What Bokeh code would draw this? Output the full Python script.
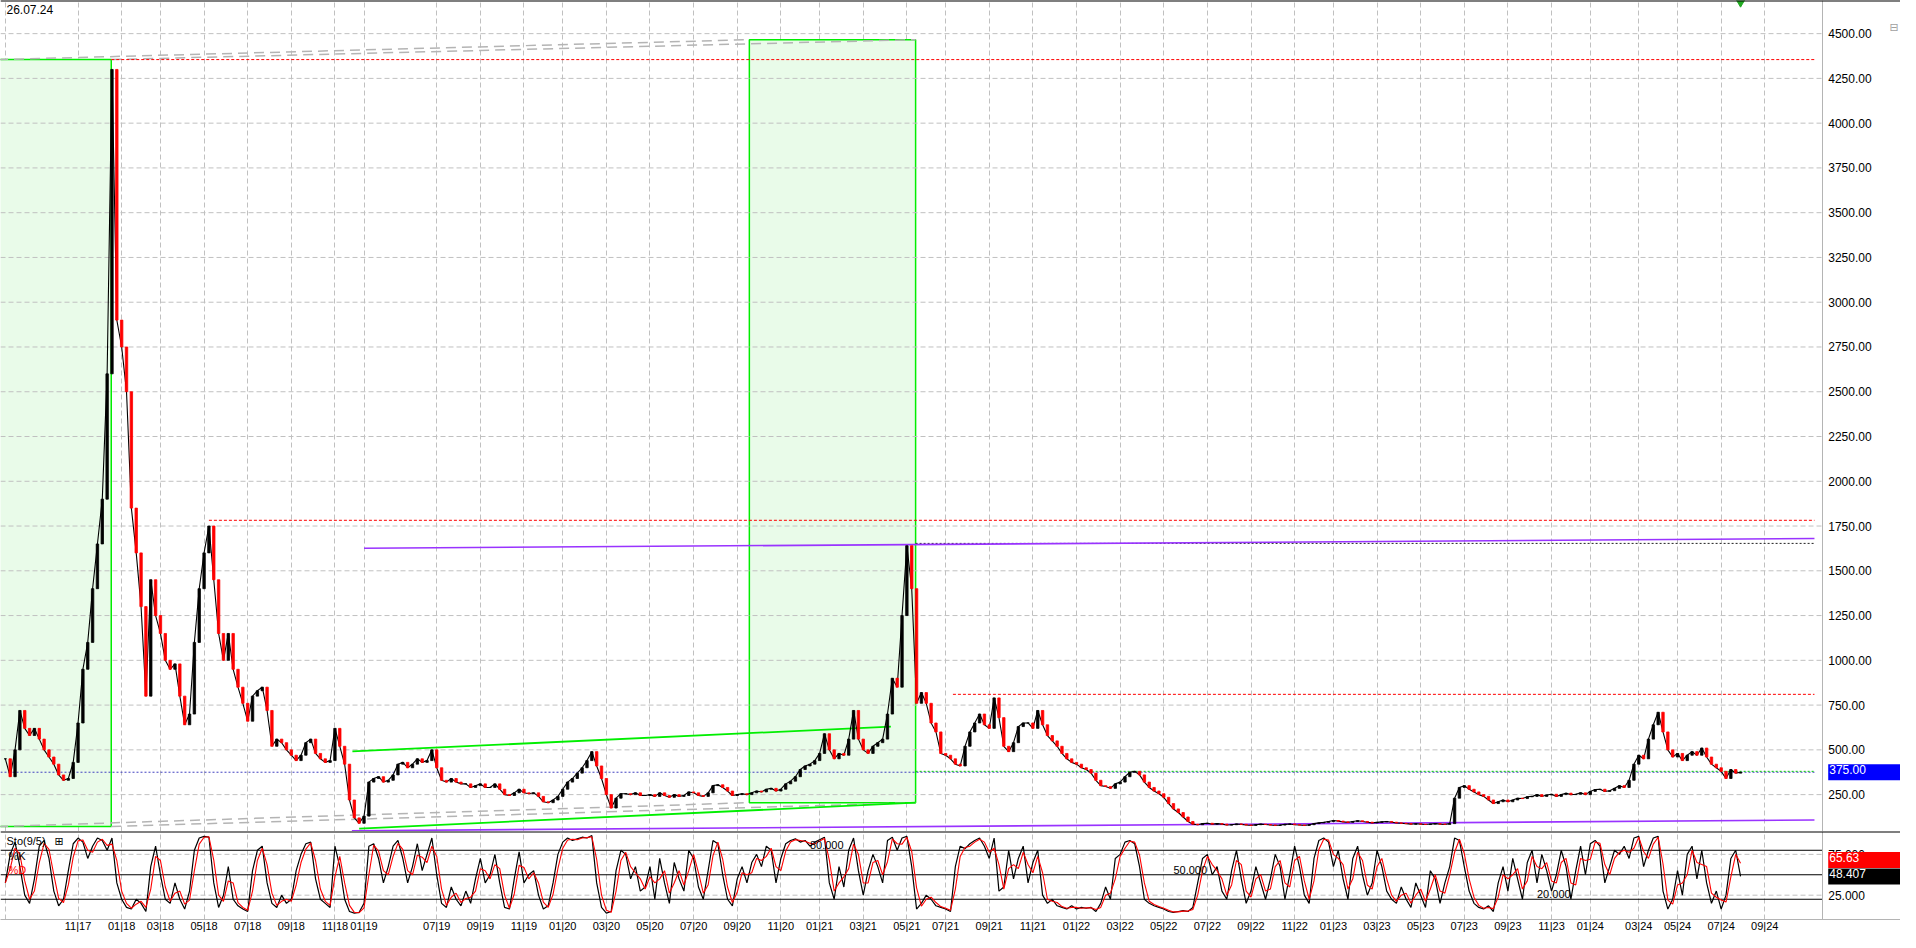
import pandas as pd
from bokeh.plotting import figure
from bokeh.layouts import column
from bokeh.models import (FixedTicker, CustomJSTickFormatter, NumeralTickFormatter,
                          Span, Label, Range1d, ColumnDataSource)
from bokeh.embed import file_html
from bokeh.resources import INLINE

# ---------------- data (bar index = sample number) ----------------
closes = [
    450, 350, 500, 720, 620, 580, 620, 560, 500, 460,
    420, 360, 330, 340, 430, 650, 950, 1100, 1400, 1650,
    1900, 2600, 4300, 2900, 2750, 2500, 1850, 1600, 1300, 800,
    1450, 1250, 1150, 1000, 950, 980, 800, 640, 700, 1100,
    1400, 1600, 1750, 1450, 1150, 1000, 1150, 950, 850, 760,
    660, 800, 830, 850, 720, 520, 560, 540, 500, 470,
    440, 470, 540, 560, 480, 450, 430, 440, 620, 520,
    420, 220, 120, 90, 130, 320, 340, 350, 320, 330,
    360, 420, 430, 400, 420, 450, 430, 440, 500, 400,
    330, 320, 340, 320, 310, 310, 290, 300, 310, 290,
    290, 310, 280, 250, 245, 260, 280, 260, 255, 260,
    240, 210, 205, 220, 240, 280, 320, 340, 370, 400,
    440, 490, 410, 340, 250, 175, 230, 255, 255, 250,
    260, 245, 245, 250, 240, 260, 245, 235, 250, 240,
    245, 265, 260, 245, 240, 260, 300, 305, 290, 270,
    245, 250, 255, 250, 260, 270, 265, 280, 285, 270,
    280, 310, 325, 350, 390, 410, 420, 440, 480, 590,
    500, 450, 480, 470, 560, 720, 560, 500, 480, 520,
    540, 560, 700, 900, 850, 1250, 1640, 1400, 760, 820,
    760, 650, 600, 480, 470, 450, 420, 410, 520, 600,
    650, 700, 640, 620, 790, 680, 520, 490, 540, 630,
    650, 650, 620, 720, 640, 580, 550, 520, 480, 450,
    430, 420, 400, 390, 370, 330, 300, 295, 285, 310,
    320, 350, 375, 380, 360, 320, 290, 270, 255, 235,
    200, 170, 150, 125, 100, 85, 82, 88, 90, 85,
    88, 85, 80, 82, 86, 84, 80, 78, 82, 85,
    83, 80, 78, 80, 84, 86, 82, 80, 78, 82,
    88, 92, 95, 100, 105, 102, 98, 95, 100, 104,
    100, 96, 92, 95, 98, 100, 96, 92, 90, 88,
    85, 87, 85, 83, 86, 88, 85, 84, 88, 230,
    290, 300, 280, 265, 250, 240, 220, 200, 210, 220,
    210, 220, 230, 228, 238, 240, 250, 240, 248, 252,
    240, 250, 258, 250, 252, 260, 250, 268, 278, 280,
    268, 272, 285, 300, 290, 330, 420, 470, 450, 560,
    640, 710, 600, 500, 460, 480, 440, 470, 490, 470,
    510, 460, 420, 400, 380, 340, 390, 370, 375,
]

stoch_k = [
    40, 75, 90, 60, 25, 15, 45, 85, 92, 70, 30, 12, 20, 55, 88, 95, 90, 70, 85, 95,
    92, 80, 95, 40, 20, 10, 8, 20, 15, 5, 60, 85, 50, 20, 15, 40, 20, 8, 30, 80,
    95, 97, 96, 40, 10, 25, 60, 20, 12, 8, 5, 55, 80, 85, 40, 15, 10, 25, 15, 20,
    55, 75, 88, 90, 45, 20, 15, 10, 85, 60, 20, 5, 3, 4, 15, 85, 88, 70, 40, 60,
    85, 92, 70, 40, 60, 88, 55, 75, 95, 50, 15, 10, 35, 20, 12, 30, 15, 45, 70, 40,
    50, 75, 40, 10, 8, 45, 78, 40, 50, 55, 25, 8, 12, 40, 75, 90, 95, 92, 94, 96,
    95, 98, 40, 10, 3, 5, 55, 80, 75, 45, 60, 30, 35, 60, 20, 70, 40, 15, 65, 45,
    30, 80, 70, 35, 20, 55, 92, 88, 50, 20, 12, 45, 60, 40, 65, 75, 60, 85, 80, 40,
    70, 88, 92, 94, 90, 92, 85, 90, 93, 96, 40, 20, 60, 35, 80, 95, 55, 25, 55, 75,
    60, 40, 92, 96, 80, 95, 97, 60, 8, 15, 25, 20, 12, 10, 8, 5, 60, 85, 82, 88,
    92, 95, 85, 70, 95, 30, 35, 80, 45, 70, 85, 40, 65, 80, 25, 15, 20, 12, 10, 8,
    12, 8, 10, 9, 10, 5, 15, 35, 20, 70, 75, 90, 92, 88, 60, 20, 15, 12, 10, 8,
    5, 4, 5, 6, 5, 10, 40, 70, 75, 50, 60, 30, 20, 55, 80, 45, 15, 30, 60, 40,
    20, 45, 75, 60, 20, 50, 85, 60, 25, 15, 70, 92, 95, 90, 60, 80, 45, 20, 70, 85,
    50, 25, 40, 80, 60, 30, 20, 15, 35, 20, 10, 40, 25, 10, 55, 45, 15, 40, 60, 95,
    92, 60, 30, 15, 10, 8, 12, 5, 40, 60, 30, 70, 45, 20, 65, 80, 40, 75, 55, 30,
    50, 80, 60, 20, 55, 85, 50, 88, 92, 85, 40, 60, 80, 75, 85, 70, 95, 97, 60, 80,
    95, 97, 30, 8, 20, 55, 25, 75, 85, 45, 80, 40, 15, 30, 8, 25, 70, 80, 48,
]

month_bars = [0, 15, 24, 32, 41, 50, 59, 68, 74, 89, 98, 107, 115, 124, 133, 142, 151,
              160, 168, 177, 186, 194, 203, 212, 221, 230, 239, 248, 257, 266, 274, 283,
              292, 301, 310, 319, 327, 337, 345, 354, 363]
month_labels = ["", "11|17", "01|18", "03|18", "05|18", "07|18", "09|18", "11|18", "01|19",
                "07|19", "09|19", "11|19", "01|20", "03|20", "05|20", "07|20", "09|20",
                "11|20", "01|21", "03|21", "05|21", "07|21", "09|21", "11|21", "01|22",
                "03|22", "05|22", "07|22", "09|22", "11|22", "01|23", "03|23", "05|23",
                "07|23", "09|23", "11|23", "01|24", "03|24", "05|24", "07|24", "09|24"]

price_ticks = list(range(250, 4501, 250))
stoch_ticks = [25, 75]
stoch_levels = [80, 50, 20]
last_date = "26.07.24"
last_price_label = "375.00"
last_d_label = "65.63"
last_k_label = "48.407"

# chart drawings (bar index, price)
zone_x0 = [-1.5, 153.5]
zone_x1 = [21.85, 187.8]
zone_y0 = [72, 205]
zone_y1 = [4355, 4466]
channel_x0 = [71.6, 73.0]
channel_x1 = [182.7, 187.8]
channel_y0 = [491, 60]
channel_y1 = [630, 205]
purple_x0 = [74.0, 71.5]
purple_x1 = [373.25, 373.25]
purple_y0 = [1626, 48]
purple_y1 = [1680, 108]
red_lvl_x0 = [21.85, 42.0, 195.5]
red_lvl_y = [4355, 1782, 810]
black_lvl_x0 = [187.8]
black_lvl_y = [1653]
blue_lvl_x0 = [-1.0]
blue_lvl_y = [375]
green_lvl_x0 = [187.8]
green_lvl_y = [380]
level_end = 373.25
signal_bar = [358]

assert len(closes) == len(stoch_k) == 359
assert len(month_bars) == len(month_labels)

# ---------------- derived ----------------
n = len(closes)
idx = list(range(n))
opens = [closes[0]] + closes[:-1]
tops = [max(o, c) for o, c in zip(opens, closes)]
bots = [min(o, c) for o, c in zip(opens, closes)]
cols = ["#000000" if c >= o else "#ff0000" for o, c in zip(opens, closes)]
kser = pd.Series(stoch_k, dtype=float)
stoch_d = kser.rolling(2).mean().fillna(kser.iloc[0]).tolist()

FONT = "Liberation Sans"
X0 = -1.0          # left edge of chart
X1 = 374.85        # price-axis line
XR = 391.0         # right edge of the page (axis label area inside frame)
PY0, PY1 = 44, 4685
SY0, SY1 = -4.8, 103
GRID_COL = "#c0c0c0"
GRID_DASH = "5 3"
FW = 1900


def style_yaxis(ax, ticks, fmt):
    ax.ticker = FixedTicker(ticks=ticks)
    ax.formatter = NumeralTickFormatter(format=fmt)
    ax.fixed_location = X1
    ax.major_label_text_font = FONT
    ax.major_label_text_font_size = "12px"
    ax.major_label_text_color = "#000000"
    ax.axis_line_color = "#b4b4b4"
    ax.major_tick_in = 0
    ax.major_tick_out = 0
    ax.minor_tick_line_color = None
    ax.major_label_standoff = 6


def value_box(fig, y, text, color, text_w):
    # box from the axis line to the right edge of the page
    fig.add_layout(Label(x=X1, y=y, x_offset=6, text=text, text_font=FONT,
                         text_font_size="12px", text_color="#ffffff", text_baseline="middle",
                         text_align="left", background_fill_color=color,
                         padding=(1, int(72 - text_w), 1, 6)))


# ---------------- price panel ----------------
p = figure(frame_width=FW, frame_height=831, x_range=Range1d(X0, XR), y_range=Range1d(PY0, PY1),
           x_axis_location=None, y_axis_location="right", toolbar_location=None,
           output_backend="svg", min_border_left=0, min_border_right=0, min_border_top=0,
           min_border_bottom=0, outline_line_color=None, background_fill_color="white",
           border_fill_color="white")

p.xgrid.ticker = FixedTicker(ticks=month_bars)
p.xgrid.grid_line_color = GRID_COL
p.xgrid.grid_line_dash = GRID_DASH
p.ygrid.visible = False
style_yaxis(p.yaxis[0], price_ticks, "0.00")

# zones
p.quad(left=zone_x0, right=zone_x1, bottom=zone_y0, top=zone_y1,
       fill_color="#e9fbe9", line_color="#00ee00", line_width=1.5)

# horizontal grid (drawn over zone fill, stops at the axis line)
p.segment(x0=[X0] * len(price_ticks), x1=[X1] * len(price_ticks), y0=price_ticks, y1=price_ticks,
          line_color=GRID_COL, line_dash=GRID_DASH, line_width=1)

# projection lines between zone corners (gray dashed)
p.segment(x0=[zone_x0[0], zone_x1[0], zone_x0[0], zone_x1[0]],
          x1=[zone_x0[1], zone_x1[1], zone_x0[1], zone_x1[1]],
          y0=[zone_y1[0], zone_y1[0], zone_y0[0], zone_y0[0]],
          y1=[zone_y1[1], zone_y1[1], zone_y0[1], zone_y0[1]],
          line_color="#b4b4b4", line_width=1.5, line_dash="10 6")

# horizontal levels
p.segment(x0=red_lvl_x0, x1=[level_end] * len(red_lvl_x0), y0=red_lvl_y, y1=red_lvl_y,
          line_color="#ff0000", line_width=1, line_dash="3 2")
p.segment(x0=black_lvl_x0, x1=[level_end], y0=black_lvl_y, y1=black_lvl_y,
          line_color="#222222", line_width=1, line_dash="2 2")
p.segment(x0=blue_lvl_x0, x1=[level_end], y0=blue_lvl_y, y1=blue_lvl_y,
          line_color="#4040c0", line_width=1, line_dash="2 2")
p.segment(x0=green_lvl_x0, x1=[level_end], y0=green_lvl_y, y1=green_lvl_y,
          line_color="#00cc00", line_width=1, line_dash="2 2")

# channel and purple lines
p.segment(x0=channel_x0, x1=channel_x1, y0=channel_y0, y1=channel_y1,
          line_color="#00ee00", line_width=1.8)
p.segment(x0=purple_x0, x1=purple_x1, y0=purple_y0, y1=purple_y1,
          line_color="#9933ff", line_width=1.6)

# price bars
src = ColumnDataSource(dict(x=idx, top=tops, bottom=bots, color=cols, close=closes))
p.line("x", "close", source=src, line_color="#000000", line_width=1.1)
p.vbar(x="x", top="top", bottom="bottom", width=0.5, fill_color="color",
       line_color="color", line_width=0.8, source=src)

# signal marker at the top
p.scatter(x=signal_bar, y=[PY1 - 5], marker="inverted_triangle", size=10,
          fill_color="#22aa22", line_color="#22aa22")

p.add_layout(Span(location=PY1, dimension="width", line_color="#000000", line_width=2))

p.add_layout(Label(x=X0, y=PY1, x_offset=6, y_offset=-4, text=last_date, text_font=FONT,
                   text_font_size="12px", text_color="#000000", text_baseline="top",
                   text_align="left"))
value_box(p, blue_lvl_y[0], last_price_label, "#0000ff", 36.7)
p.add_layout(Label(x=XR, y=PY1, x_offset=-11, y_offset=-20, text="⊟", text_font="DejaVu Sans",
                   text_font_size="11px", text_color="#a0a0a0", text_baseline="top",
                   text_align="left"))

# ---------------- stochastic panel ----------------
s = figure(frame_width=FW, frame_height=88, x_range=p.x_range, y_range=Range1d(SY0, SY1),
           x_axis_location="below", y_axis_location="right", toolbar_location=None,
           output_backend="svg", min_border_left=0, min_border_right=0, min_border_top=0,
           min_border_bottom=13, outline_line_color=None, background_fill_color="white",
           border_fill_color="white")
s.xgrid.ticker = FixedTicker(ticks=month_bars)
s.xgrid.grid_line_color = GRID_COL
s.xgrid.grid_line_dash = GRID_DASH
s.ygrid.visible = False

xa = s.xaxis[0]
xa.ticker = FixedTicker(ticks=month_bars)
xa.formatter = CustomJSTickFormatter(args=dict(pos=month_bars, lab=month_labels), code="""
    const i = pos.indexOf(tick);
    return i >= 0 ? lab[i] : "";
""")
xa.major_label_text_font = FONT
xa.major_label_text_font_size = "11px"
xa.major_label_text_color = "#000000"
xa.axis_line_color = "#b4b4b4"
xa.major_tick_in = 0
xa.major_tick_out = 0
xa.minor_tick_line_color = None
xa.major_label_standoff = 0

style_yaxis(s.yaxis[0], stoch_ticks, "0.000")

s.segment(x0=[X0] * len(stoch_ticks), x1=[X1] * len(stoch_ticks), y0=stoch_ticks, y1=stoch_ticks,
          line_color=GRID_COL, line_dash=GRID_DASH, line_width=1)
s.segment(x0=[X0] * len(stoch_levels), x1=[X1] * len(stoch_levels), y0=stoch_levels,
          y1=stoch_levels, line_color="#000000", line_width=1)
s.add_layout(Span(location=SY1, dimension="width", line_color="#000000", line_width=2))

ssrc = ColumnDataSource(dict(x=idx, k=stoch_k, d=stoch_d))
s.line("x", "k", source=ssrc, line_color="#000000", line_width=1.2)
s.line("x", "d", source=ssrc, line_color="#ff0000", line_width=1.1)

lvl_label_bars = [166, 241, 316]
for lv, xb in zip(stoch_levels, lvl_label_bars):
    s.add_layout(Label(x=xb, y=lv + 1.5, text=f"{lv:.3f}", text_font=FONT, text_font_size="11px",
                       text_color="#000000", text_baseline="bottom", text_align="left"))

s.add_layout(Label(x=X0, y=91, x_offset=6, text="Sto(9/5)", text_font=FONT, text_font_size="11px",
                   text_color="#000000", text_baseline="middle", text_align="left"))
s.add_layout(Label(x=X0, y=91, x_offset=54, text="⊞", text_font="DejaVu Sans", text_font_size="11px",
                   text_color="#000000", text_baseline="middle", text_align="left"))
s.add_layout(Label(x=X0, y=73, x_offset=8, text="%K", text_font=FONT, text_font_size="11px",
                   text_color="#000000", text_baseline="middle", text_align="left"))
s.add_layout(Label(x=X0, y=56, x_offset=8, text="%D", text_font=FONT, text_font_size="11px",
                   text_color="#ff0000", text_baseline="middle", text_align="left"))

value_box(s, stoch_d[-1] + 4, last_d_label, "#ff0000", 30.0)
value_box(s, stoch_k[-1], last_k_label, "#000000", 36.7)

layout = column(p, s, spacing=0)
open("out.html", "w").write(file_html(layout, INLINE))
